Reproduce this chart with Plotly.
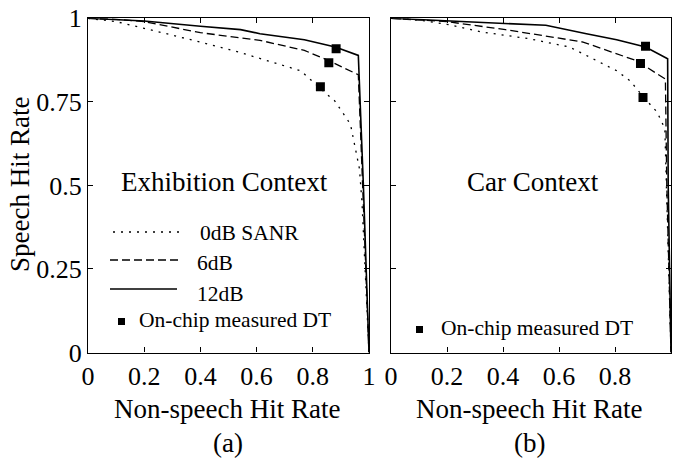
import plotly.graph_objects as go

# ---------------- data ----------------
# Exhibition context (panel a)
exh_x_0db = [0, 0.1, 0.2, 0.3, 0.4, 0.54, 0.66, 0.757, 0.836, 0.878, 0.934, 0.966, 0.975, 0.986, 1.0]
exh_y_0db = [1, 0.99, 0.97, 0.95, 0.929, 0.898, 0.868, 0.843, 0.783, 0.753, 0.683, 0.55, 0.45, 0.25, 0.0]
exh_x_6db = [0, 0.1, 0.2, 0.4, 0.612, 0.77, 0.858, 0.962, 0.975, 0.988, 1.0]
exh_y_6db = [1, 0.997, 0.99, 0.957, 0.934, 0.904, 0.873, 0.831, 0.55, 0.25, 0.0]
exh_x_12db = [0, 0.1, 0.2, 0.4, 0.543, 0.612, 0.77, 0.88, 0.962, 0.98, 0.99, 1.0]
exh_y_12db = [1, 0.997, 0.992, 0.976, 0.966, 0.954, 0.936, 0.914, 0.889, 0.5, 0.25, 0.0]
exh_dt_x = [0.883, 0.857, 0.827]
exh_dt_y = [0.909, 0.867, 0.795]

# Car context (panel b)
car_x_0db = [0, 0.1, 0.2, 0.325, 0.493, 0.638, 0.806, 0.854, 0.903, 0.95, 0.978, 0.983, 0.99, 1.0]
car_y_0db = [1, 0.995, 0.982, 0.959, 0.939, 0.914, 0.843, 0.813, 0.763, 0.72, 0.67, 0.5, 0.25, 0.0]
car_x_6db = [0, 0.2, 0.409, 0.686, 0.877, 0.98, 0.985, 1.0]
car_y_6db = [1, 0.99, 0.966, 0.929, 0.873, 0.818, 0.5, 0.0]
car_x_12db = [0, 0.205, 0.409, 0.553, 0.698, 0.806, 0.909, 0.988, 0.99, 1.0]
car_y_12db = [1, 0.992, 0.986, 0.979, 0.954, 0.936, 0.914, 0.879, 0.5, 0.0]
car_dt_x = [0.909, 0.891, 0.9]
car_dt_y = [0.916, 0.865, 0.763]

x_tickvals = [0, 0.2, 0.4, 0.6, 0.8, 1]
x_ticktext = ["0", "0.2", "0.4", "0.6", "0.8", "1"]
y_tickvals = [0, 0.25, 0.5, 0.75, 1]
y_ticktext = ["0", "0.25", "0.5", "0.75", "1"]

legend_labels = ["0dB SANR", "6dB", "12dB", "On-chip measured DT"]

# ---------------- figure ----------------
W, H = 673, 463
FONT = "Liberation Serif, Times New Roman, serif"


def pxx(x):
    return x / W


def pyy(y):
    return 1 - y / H


fig = go.Figure()

line_styles = [("2px,6px", 1.3), ("8px,4px", 1.3), ("solid", 1.6)]

for xs, ys, (dash, w) in zip([exh_x_0db, exh_x_6db, exh_x_12db],
                             [exh_y_0db, exh_y_6db, exh_y_12db], line_styles):
    fig.add_trace(go.Scatter(x=xs, y=ys, mode="lines", xaxis="x", yaxis="y",
                             line=dict(color="black", width=w, dash=dash),
                             showlegend=False, hoverinfo="skip"))
fig.add_trace(go.Scatter(x=exh_dt_x, y=exh_dt_y, mode="markers", xaxis="x", yaxis="y",
                         marker=dict(symbol="square", size=9, color="black"),
                         showlegend=False))

for xs, ys, (dash, w) in zip([car_x_0db, car_x_6db, car_x_12db],
                             [car_y_0db, car_y_6db, car_y_12db], line_styles):
    fig.add_trace(go.Scatter(x=xs, y=ys, mode="lines", xaxis="x2", yaxis="y2",
                             line=dict(color="black", width=w, dash=dash),
                             showlegend=False, hoverinfo="skip"))
fig.add_trace(go.Scatter(x=car_dt_x, y=car_dt_y, mode="markers", xaxis="x2", yaxis="y2",
                         marker=dict(symbol="square", size=9, color="black"),
                         showlegend=False))

ydom = [pyy(352.5), pyy(18.3)]
axis_common = dict(range=[0, 1], showline=True, linecolor="black", linewidth=1.3,
                   mirror="ticks", ticks="inside", ticklen=5, tickcolor="black",
                   showgrid=False, zeroline=False, automargin=False,
                   tickfont=dict(family=FONT, size=26, color="black"))

fig.update_layout(
    width=W, height=H,
    margin=dict(l=0, r=0, t=0, b=0),
    paper_bgcolor="white", plot_bgcolor="white",
    showlegend=False,
    xaxis=dict(domain=[pxx(88), pxx(369)], anchor="y", tickvals=x_tickvals,
               ticktext=x_ticktext, **axis_common),
    yaxis=dict(domain=ydom, anchor="x", tickvals=y_tickvals, ticktext=y_ticktext,
               **axis_common),
    xaxis2=dict(domain=[pxx(391), pxx(671)], anchor="y2", tickvals=x_tickvals,
                ticktext=x_ticktext, **axis_common),
    yaxis2=dict(domain=ydom, anchor="x2", tickvals=y_tickvals, ticktext=y_ticktext,
                showticklabels=False, **axis_common),
)

annots = []


def add_text(text, x, y, size, xanchor="center", angle=0):
    annots.append(dict(text=text, x=pxx(x), y=pyy(y), xref="paper", yref="paper",
                       showarrow=False, xanchor=xanchor, yanchor="middle",
                       textangle=angle,
                       font=dict(family=FONT, size=size, color="black")))


add_text("Speech Hit Rate", 20, 185, 27, angle=-90)
add_text("Non-speech Hit Rate", 227, 409, 27)
add_text("Non-speech Hit Rate", 529, 409, 27)
add_text("(a)", 228, 443, 27)
add_text("(b)", 529, 443, 27)
add_text("Exhibition Context", 225, 182, 27)
add_text("Car Context", 533, 182, 27)

# legend (panel a)
add_text(legend_labels[0], 198, 233, 21.5, xanchor="left")
add_text(legend_labels[1], 195, 263, 21.5, xanchor="left")
add_text(legend_labels[2], 195, 294, 21.5, xanchor="left")
add_text(legend_labels[3], 137, 320, 21.5, xanchor="left")
# legend (panel b)
add_text(legend_labels[3], 439, 328, 21.5, xanchor="left")

shapes = []
for (dash, w), (x0, x1, y) in zip(line_styles, [(113, 180, 232), (110, 178, 260), (110, 177, 289)]):
    shapes.append(dict(type="line", xref="paper", yref="paper",
                       x0=pxx(x0), x1=pxx(x1), y0=pyy(y), y1=pyy(y),
                       line=dict(color="black", width=w, dash=dash)))
for cx, cy in [(121.5, 321.5), (419.5, 329.5)]:
    shapes.append(dict(type="rect", xref="paper", yref="paper",
                       x0=pxx(cx - 3.5), x1=pxx(cx + 3.5), y0=pyy(cy + 3.5), y1=pyy(cy - 3.5),
                       fillcolor="black", line=dict(width=0)))

fig.update_layout(annotations=annots, shapes=shapes)

fig.write_html("out.html")
